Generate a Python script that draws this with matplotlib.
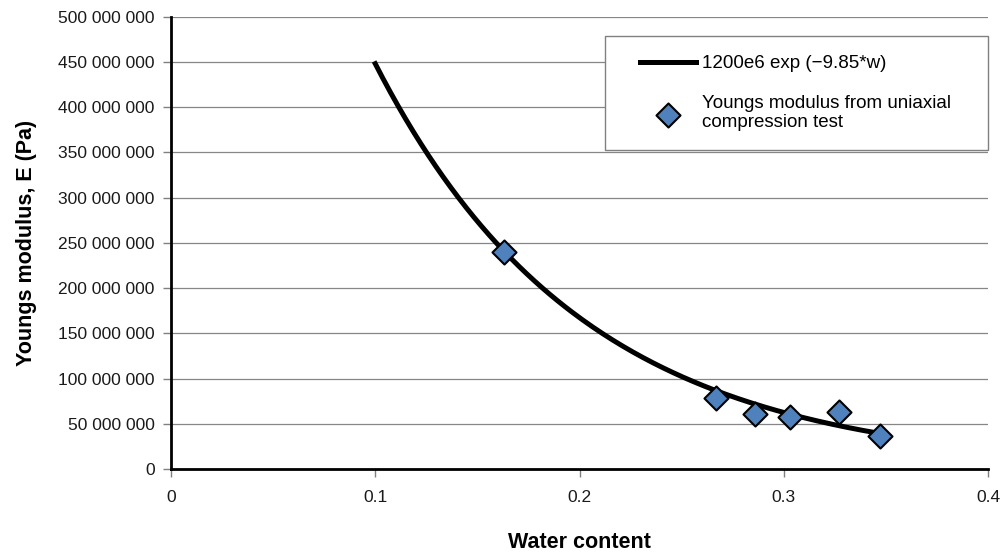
import numpy as np
import matplotlib
matplotlib.use('Agg')
import matplotlib.pyplot as plt
from matplotlib.patches import Rectangle
from matplotlib.ticker import FuncFormatter

plt.rcParams['font.family'] = ['Liberation Sans', 'DejaVu Sans']

# measured points (uniaxial compression test)
water = [0.163, 0.267, 0.286, 0.303, 0.327, 0.347]
modulus = [240e6, 78.5e6, 61e6, 57.5e6, 63e6, 36.5e6]

# fitted curve parameters, from the legend: E = a * exp(k * w)
fit_a = 1200e6
fit_k = -9.85
fit_w_range = (0.1, 0.346)

fig = plt.figure(figsize=(10, 5.59), dpi=100)
ax = fig.add_axes([0.171, 0.161, 0.817, 0.809])

w = np.linspace(fit_w_range[0], fit_w_range[1], 200)
ax.plot(w, fit_a * np.exp(fit_k * w), color='black', lw=3.6,
        label='1200e6 exp (\u22129.85*w)', zorder=3)
ax.scatter(water, modulus, marker='D', s=150, color='#4f81bd',
           edgecolor='black', linewidth=1.5, zorder=4,
           label='Youngs modulus from uniaxial\ncompression test')

ax.set_xlim(0, 0.4)
ax.set_ylim(0, 500e6)
ax.set_xticks([0, 0.1, 0.2, 0.3, 0.4])
ax.set_xticklabels(['0', '0.1', '0.2', '0.3', '0.4'])
ax.set_yticks(np.arange(0, 500e6 + 1, 50e6))
ax.yaxis.set_major_formatter(FuncFormatter(lambda v, p: f'{int(v):,}'.replace(',', ' ')))
ax.grid(axis='y', color='#868686', lw=0.9)
ax.set_axisbelow(True)

for s in ('top', 'right'):
    ax.spines[s].set_visible(False)
for s in ('left', 'bottom'):
    ax.spines[s].set_linewidth(2)
ax.tick_params(direction='out', length=5.8, width=1, color='#808080',
               labelsize=12.5, labelcolor='#1a1a1a', pad=6)
ax.tick_params(axis='x', pad=9)

ax.set_xlabel('Water content', fontsize=15.5, fontweight='bold', labelpad=20)
ax.set_ylabel('Youngs modulus, E (Pa)', fontsize=15.5, fontweight='bold', labelpad=15)

# legend frame drawn separately so its size matches the original box
ax.add_patch(Rectangle((0.531, 0.706), 0.469, 0.252, transform=ax.transAxes,
                       facecolor='white', edgecolor='#808080', lw=1, zorder=5,
                       clip_on=False))
leg = ax.legend(loc='upper left', bbox_to_anchor=(0.574, 0.915), fontsize=13.5,
                frameon=False, borderpad=0, handlelength=3.0,
                labelspacing=1.2, borderaxespad=0, handletextpad=0.3)
leg.set_zorder(6)

fig.savefig('out.png', dpi=100)
